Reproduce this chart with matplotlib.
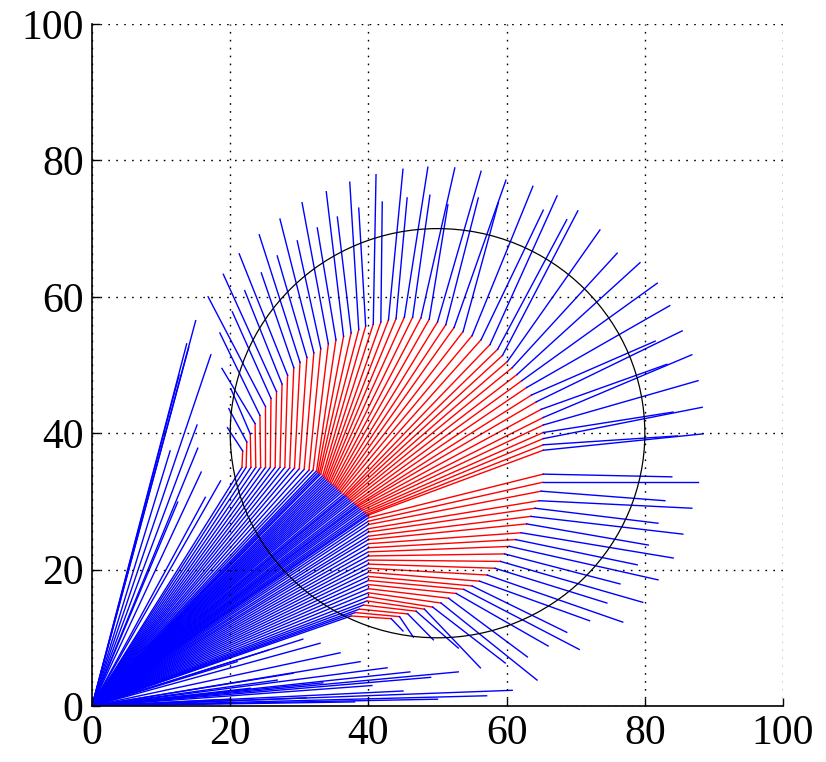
import numpy as np
import matplotlib
matplotlib.use("Agg")
import matplotlib.pyplot as plt
from matplotlib.patches import Circle

# source of all rays
src_x, src_y = 0.0, 0.0

# rays that leave the source steeply and stop before the lens
steep_x = [15.0, 13.7, 14.0, 17.2, 12.6, 15.2, 11.3, 15.3, 15.8, 12.4, 16.4, 18.6]
steep_y = [56.5, 53.1, 52.6, 51.5, 48.5, 41.2, 37.4, 37.8, 34.3, 29.9, 30.6, 33.0]

# rays that leave the source at a shallow angle and miss the lens
shallow_x = [33.0, 35.9, 38.8, 42.7, 46.0, 53.0, 49.0, 29.1, 33.4, 26.8, 22.9, 40.5,
             45.0, 57.1, 60.8, 50.0, 31.0, 20.0, 38.0, 25.5, 21.0, 30.5]
shallow_y = [9.2, 7.8, 6.5, 5.6, 5.0, 5.0, 4.2, 4.8, 3.4, 3.8, 2.6, 3.0,
             2.2, 1.5, 2.3, 1.0, 1.2, 1.0, 0.6, 8.2, 6.5, 9.8]

# refracted rays: where they enter the red zone, leave it, and end
entry_x = [21.7, 22.3, 23.0, 23.7, 24.4, 25.1, 25.8, 26.5, 27.2, 27.9, 28.6, 29.3, 30.0, 30.7, 31.4, 32.0,
           32.5, 32.7, 32.9, 33.1, 33.4, 33.6, 33.8, 34.0, 34.2, 34.4, 34.6, 34.9, 35.1, 35.3, 35.5, 35.7,
           35.9, 36.1, 36.4, 36.6, 36.8, 37.0, 37.2, 37.4, 37.6, 37.9, 38.1, 38.3, 38.5, 38.7, 38.9, 39.1,
           39.4, 39.6, 39.8, 40.0,
           40.0, 40.0, 40.0, 40.0, 40.0, 40.0, 40.0, 40.0, 40.0, 40.0, 40.0, 40.0, 40.0, 40.0, 40.0, 40.0,
           40.0, 40.0, 40.0, 40.0, 40.0, 39.8, 39.3, 38.7, 38.1, 37.5]
entry_y = [35.0, 35.0, 35.0, 35.0, 35.0, 35.0, 35.0, 35.0, 35.0, 35.0, 34.9, 34.9, 34.8, 34.7, 34.6, 34.6,
           34.5, 34.3, 34.1, 34.0, 33.8, 33.6, 33.4, 33.2, 33.0, 32.8, 32.6, 32.5, 32.3, 32.1, 31.9, 31.7,
           31.5, 31.3, 31.1, 30.9, 30.8, 30.6, 30.4, 30.2, 30.0, 29.8, 29.6, 29.4, 29.3, 29.1, 28.9, 28.7,
           28.5, 28.3, 28.1, 28.0,
           27.6, 27.1, 26.6, 26.0, 25.5, 24.9, 24.4, 23.8, 23.2, 22.6, 22.0, 21.4, 20.8, 20.2, 19.6, 19.0,
           18.4, 17.8, 17.2, 16.6, 16.0, 15.4, 14.8, 14.2, 13.7, 13.2]
exit_x = [21.8, 22.4, 22.9, 23.6, 24.3, 25.1, 25.9, 26.7, 27.5, 28.3, 29.2, 30.1, 31.1, 32.1, 33.1, 34.2,
          35.3, 36.4, 37.5, 38.6, 39.6, 40.7, 41.8, 42.9, 44.0, 45.2, 46.4, 47.6, 48.8, 50.0, 51.2, 52.4,
          53.7, 55.0, 56.3, 57.6, 58.7, 59.4, 60.1, 60.8, 61.5, 62.2, 62.9, 63.6, 64.3, 65.0, 65.3, 65.3,
          65.3, 65.3, 65.3, 65.3,
          65.3, 65.2, 65.0, 64.7, 64.1, 63.5, 62.9, 62.1, 61.3, 60.4, 59.7, 59.1, 58.3, 57.2, 56.1, 55.0,
          53.8, 52.7, 51.6, 50.5, 49.3, 48.1, 46.9, 45.7, 44.5, 43.3]
exit_y = [37.4, 38.7, 39.9, 41.4, 42.6, 43.9, 45.1, 46.1, 47.2, 48.5, 49.6, 50.4, 51.1, 51.8, 52.4, 53.1,
          53.7, 54.2, 54.7, 55.2, 55.7, 56.0, 56.3, 56.6, 56.8, 57.0, 57.0, 56.9, 56.7, 56.3, 55.9, 55.5,
          54.9, 54.3, 53.7, 53.0, 52.3, 51.4, 50.5, 49.6, 48.6, 47.7, 46.7, 45.6, 44.6, 43.5, 42.3, 41.2,
          40.1, 39.2, 38.3, 37.5,
          34.0, 32.8, 31.5, 30.1, 29.0, 27.8, 26.7, 25.4, 24.4, 23.4, 22.3, 21.2, 20.2, 19.2, 18.3, 17.6,
          17.1, 16.5, 15.8, 15.1, 14.5, 14.2, 13.9, 13.5, 13.1, 12.8]
end_x = [19.6, 19.8, 20.1, 18.8, 18.5, 16.8, 20.3, 19.0, 22.1, 21.3, 24.5, 24.2, 26.8, 27.2, 29.7, 30.4,
         32.6, 33.9, 35.5, 37.3, 38.6, 41.1, 42.0, 45.0, 45.6, 48.6, 48.9, 52.5, 51.5, 56.3, 55.9, 59.9,
         58.8, 63.8, 65.3, 67.3, 68.7, 70.3, 73.5, 76.0, 79.3, 81.8, 83.6, 81.5, 85.4, 83.2, 86.8, 87.7,
         84.1, 88.3, 84.7, 88.4,
         83.9, 87.7, 82.9, 86.8, 81.9, 85.5, 80.5, 84.1, 78.9, 81.9, 76.4, 79.7, 74.5, 76.8, 72.0, 68.7,
         70.5, 66.0, 63.0, 64.4, 59.8, 56.2, 53.0, 49.4, 46.5, 45.0]
end_y = [40.8, 43.6, 46.5, 49.5, 54.7, 60.0, 57.8, 63.3, 60.9, 66.3, 63.5, 69.1, 66.0, 71.4, 68.2, 73.8,
         70.1, 75.4, 71.7, 76.8, 73.0, 77.9, 73.9, 78.7, 74.5, 79.0, 74.9, 78.9, 73.5, 78.4, 74.5, 77.1,
         73.8, 76.2, 72.7, 74.8, 71.3, 72.6, 69.8, 66.4, 65.0, 62.0, 58.7, 53.5, 55.0, 50.1, 51.5, 47.7,
         43.1, 43.8, 39.6, 39.9,
         33.6, 32.8, 30.1, 29.0, 26.8, 25.2, 23.6, 21.7, 20.7, 18.5, 17.9, 15.2, 15.1, 12.3, 12.5, 10.8,
         8.3, 8.8, 7.2, 3.8, 6.3, 5.6, 8.5, 9.7, 10.1, 11.0]

# the circle
circ_cx, circ_cy, circ_r = 50.0, 40.0, 30.0

ticks = [0, 20, 40, 60, 80, 100]

fig = plt.figure(figsize=(8.26, 7.62), dpi=100)
ax = fig.add_axes([0.1114, 0.0735, 0.8366, 0.895])

lw = 1.0
for xe, ye in zip(steep_x + shallow_x, steep_y + shallow_y):
    ax.plot([src_x, xe], [src_y, ye], "-", color="b", lw=lw)

for i in range(len(entry_x)):
    ax.plot([src_x, entry_x[i]], [src_y, entry_y[i]], "-", color="b", lw=lw)
for i in range(len(entry_x)):
    ax.plot([entry_x[i], exit_x[i]], [entry_y[i], exit_y[i]], "-", color="r", lw=lw)
for i in range(len(entry_x)):
    ax.plot([exit_x[i], end_x[i]], [exit_y[i], end_y[i]], "-", color="b", lw=lw)

ax.add_patch(Circle((circ_cx, circ_cy), circ_r, fill=False, color="k", lw=0.9, zorder=5))

ax.set_xlim(0, 100)
ax.set_ylim(0, 100)
ax.set_xticks(ticks)
ax.set_yticks(ticks)
ax.set_xticklabels([str(t) for t in ticks], family="Liberation Serif", fontsize=30)
ax.set_yticklabels([str(t) for t in ticks], family="Liberation Serif", fontsize=30)
ax.tick_params(direction="in", length=6, width=1, top=False, right=False, pad=6)
ax.grid(True, color="k", linestyle=(0, (1.2, 4.5)), lw=1.0)
ax.set_axisbelow(False)
for s in ["top", "right"]:
    ax.spines[s].set_visible(False)
for s in ["left", "bottom"]:
    ax.spines[s].set_linewidth(1.2)

fig.savefig("out.png", dpi=100)
